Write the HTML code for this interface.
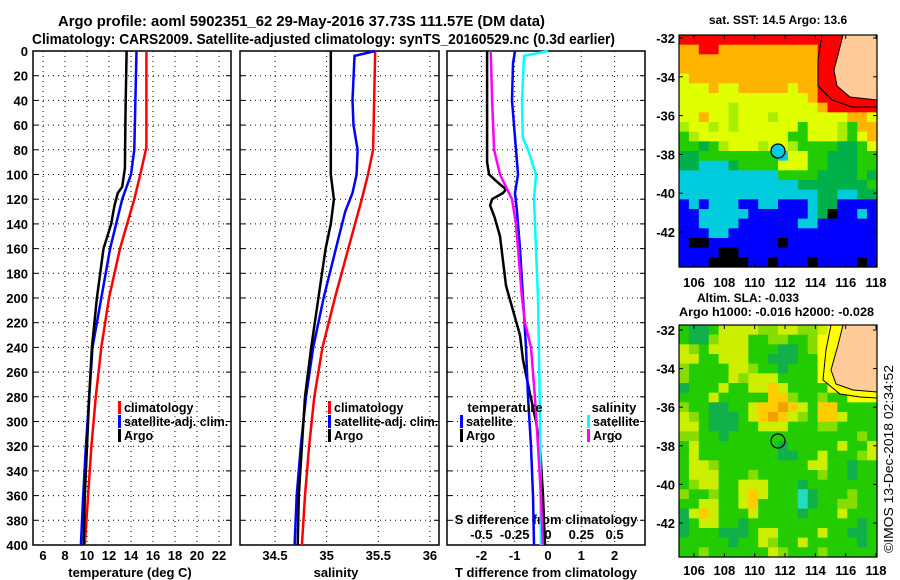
<!DOCTYPE html>
<html><head><meta charset="utf-8"><style>
html,body{margin:0;padding:0;background:#fff;}
svg{display:block;font-family:"Liberation Sans",Arial,sans-serif;font-weight:bold;}
</style></head><body>
<svg id="chart" width="900" height="580" viewBox="0 0 900 580" xmlns="http://www.w3.org/2000/svg">
<rect x="0" y="0" width="900" height="580" fill="#fff"/>
<text x="58" y="26" font-size="15" textLength="487" lengthAdjust="spacingAndGlyphs">Argo profile: aoml 5902351_62 29-May-2016 37.73S 111.57E (DM data)</text>
<text x="32" y="44" font-size="15" textLength="583" lengthAdjust="spacingAndGlyphs">Climatology: CARS2009. Satellite-adjusted climatology: synTS_20160529.nc (0.3d earlier)</text>
<text x="778" y="24" font-size="12" text-anchor="middle">sat. SST: 14.5 Argo: 13.6</text>
<text x="748" y="302" font-size="12" text-anchor="middle">Altim. SLA: -0.033</text>
<text x="679" y="316" font-size="12" textLength="195" lengthAdjust="spacingAndGlyphs">Argo h1000: -0.016 h2000: -0.028</text>
<text transform="translate(893,553) rotate(-90)" font-size="13" font-weight="normal" textLength="188" lengthAdjust="spacingAndGlyphs">©IMOS 13-Dec-2018 02:34:52</text>
<g id="maps"></g>
<g id="panels"></g>
</svg>
<script>
// ---- profile data (depth in dbar) ----
const depthTicks = [0,20,40,60,80,100,120,140,160,180,200,220,240,260,280,300,320,340,360,380,400];
const tempTicks = [6,8,10,12,14,16,18,20,22];
const salTicks = [34.5,35,35.5,36];
const tdiffTicks = [-2,-1,0,1,2];
const sdiffTicks = [-0.5,-0.25,0,0.25,0.5];
const sdiffTickLabels = ["-0.5","-0.25","0","0.25","0.5"];

const tClimDepth = [0,78,100,120,160,200,240,280,320,360,400];
const tClimVal   = [15.4,15.4,14.85,14.3,13.0,12.0,11.3,10.8,10.4,10.1,9.8];
const tSatDepth  = [0,80,100,120,160,200,240,280,320,360,400];
const tSatVal    = [14.5,14.3,14.0,13.2,12.1,11.3,10.5,10.2,9.9,9.65,9.45];
const tArgoDepth = [0,50,95,110,115,125,140,160,200,240,280,320,360,400];
const tArgoVal   = [13.6,13.5,13.45,13.2,12.8,12.5,12.2,11.5,10.9,10.45,10.2,10.0,9.8,9.7];

const sClimDepth = [0,80,100,120,160,200,240,280,320,360,400];
const sClimVal   = [35.47,35.45,35.4,35.34,35.21,35.08,34.96,34.88,34.83,34.79,34.76];
const sSatDepth  = [0,4,40,60,80,100,115,130,160,200,240,280,320,360,400];
const sSatVal    = [35.47,35.27,35.25,35.26,35.3,35.29,35.25,35.18,35.09,34.97,34.87,34.8,34.75,34.71,34.69];
const sArgoDepth = [0,100,120,140,160,200,240,280,320,360,400];
const sArgoVal   = [35.04,35.04,35.07,35.04,34.99,34.92,34.85,34.79,34.76,34.73,34.72];

const dTArgoDepth = [0,90,100,108,112,115,120,125,135,150,170,190,210,230,250,270,300,320,360,400];
const dTArgoVal   = [-1.83,-1.83,-1.77,-1.44,-1.26,-1.35,-1.68,-1.74,-1.6,-1.44,-1.35,-1.26,-1.05,-0.84,-0.75,-0.6,-0.36,-0.24,-0.15,-0.09];
const dTSatDepth  = [0,10,40,80,100,115,130,160,200,240,280,320,360,400];
const dTSatVal    = [-0.99,-1.05,-1.08,-0.96,-0.9,-0.99,-0.93,-0.84,-0.75,-0.66,-0.6,-0.51,-0.45,-0.42];
const dSSatDepth  = [0,4,40,70,80,100,120,160,200,240,300,400];
const dSSatVal    = [0,-0.18,-0.195,-0.19,-0.15,-0.09,-0.105,-0.09,-0.075,-0.068,-0.06,-0.053];
const dSArgoDepth = [0,40,80,100,110,120,140,160,200,220,240,280,320,360,400];
const dSArgoVal   = [-0.43,-0.42,-0.405,-0.36,-0.315,-0.27,-0.24,-0.225,-0.195,-0.173,-0.128,-0.098,-0.075,-0.053,-0.038];

// ---- map data ----
const lonTicks = [106,108,110,112,114,116,118];
const latTicks = [-32,-34,-36,-38,-40,-42];
const sstRows = [
"RRRRRRRRRRRRRRRRRPPP",
"OORROOOOOOOOOORRRPPP",
"OOOOOOOOOOOOOORRRPPP",
"OOOOOOOOOOOOOORRPPPP",
"YOOOOOOOOOOOOORRPPPP",
"YYYOYYOOOOOYOORRRRPP",
"YYYYYYYYYYYYYORRRRRR",
"YYYYYLYYYYYYYYORRRRR",
"YYOYYLYYYLYYYYYYYOOY",
"LYYLYLYYYYYYGYYYLGOO",
"GLYYYYYYYYYGGYYYLGYO",
"GGDGLYYYLYYLGGGGDDGY",
"DDGGGGGGGGCYYGGDDDGG",
"DDCCCDGGGGYYYGGDDDGG",
"CCCCCCCCCCGGGGDDDDGD",
"CCCCCCCCCCCCDDDDDDDG",
"CCCCCCCCCCCCCCDDCCDD",
"BCBCCCBBCCBBBCDDBBBB",
"BBCCCCCBBBBBBCDKBBCB",
"BBCCCCBBBBBBCCBBBBBB",
"BBBCCBBBBBBBBBBBBBBB",
"BKKBBBBBBBKBBBBBBBBB",
"BBBBKKBBBBBBBBBBBBBB",
"BBBKKKKBBKBBBKBBBBKB"];
const slaRows = [
"GMMGYYYYLLYYLLYWPPPP",
"GMMLYYYGGLLGGLWWPPPP",
"YLGYYYYGGGMMGLWPPPPP",
"YYGGYYYGGMMMGGWPPPPP",
"LGGGGYYLGGMGGGWPPPPP",
"LGGGGYLYYYGGGGWWPPPP",
"MGGGYGGYYOYGGGGWWWPP",
"GGGYGGGGGOOLGGLGGWWW",
"LGGMMGGYOOAOYGOOGGGG",
"YLGMMMGYOAOYLGOOYGGG",
"YYGMMMGGYYYGGGLLGGGG",
"LLGGMGGGGGGGGGGGGGLG",
"GYGGGGGGGGMGGGGGYGGY",
"GYGGGGGGGGMMGGYGGGLY",
"GYYLGGGGGGGGGYYGGMGG",
"GYYYGGGLGGGGGGLGGMGG",
"GLYYGGYYYGGGMGGGGGGG",
"LGGLGGYOYGGGTMGGGLGG",
"GGYYGGYOGGGGTMGGLLGG",
"MYOYGGGYGGGGMGGGYGGG",
"MGYYGGMGGGGGGGGGGGMG",
"MGGGMMMGYYGGGGYGGMMG",
"GGGGGMGGYLGGYGGGGGMG",
"GGLGGGGGGYLGGGLGGGGG"];

const NS="http://www.w3.org/2000/svg";
function mk(tag, attrs, parent){const e=document.createElementNS(NS,tag);for(const k in attrs)e.setAttribute(k,attrs[k]);parent.appendChild(e);return e;}
const panels=document.getElementById('panels');
const maps=document.getElementById('maps');

const PT=51, PB=545;
const yD = d => PT + d*(PB-PT)/400;
const xT = t => 43 + (t-6)*11;
const xS = s => 275 + (s-34.5)*103.3;
const xTd = v => 548 + v*33.3;
const xSd = v => 548 + v*133.2;

const panelDefs = [
 {name:'temperature-panel', x0:33, x1:231},
 {name:'salinity-panel', x0:240, x1:439},
 {name:'difference-panel', x0:447, x1:645}
];
const gridX = [tempTicks.map(xT), salTicks.map(xS), tdiffTicks.map(xTd)];

panelDefs.forEach((p,i)=>{
  const g=mk('g',{},panels);
  
  
  depthTicks.forEach(d=>{
    if(d===0||d===400) return;
    const l=mk('line',{x1:p.x0,x2:p.x1,y1:yD(d),y2:yD(d),stroke:'#000','stroke-width':1,'stroke-dasharray':'1,4'},g);
    
    
    mk('line',{x1:p.x0,x2:p.x0+5,y1:yD(d),y2:yD(d),stroke:'#000','stroke-width':1},g);
    mk('line',{x1:p.x1-5,x2:p.x1,y1:yD(d),y2:yD(d),stroke:'#000','stroke-width':1},g);
  });
  gridX[i].forEach(x=>{
    const l=mk('line',{x1:x,x2:x,y1:PT,y2:PB,stroke:'#000','stroke-width':1,'stroke-dasharray':'1,4'},g);
    
    
  });
  const fr=mk('rect',{x:p.x0,y:PT,width:p.x1-p.x0,height:PB-PT,fill:'none',stroke:'#000','stroke-width':1.5},g);
  
  
});

// y tick labels
depthTicks.forEach(d=>{
  const t=mk('text',{x:28,y:yD(d)+5,'font-size':13,'text-anchor':'end'},panels);
  t.textContent=d;
  
  
});
function xlabels(ticks,fx,y,labels){
  ticks.forEach((v,i)=>{
    const t=mk('text',{x:fx(v),y:y,'font-size':13,'text-anchor':'middle'},panels);
    t.textContent=labels?labels[i]:v;
    
    
  });
}
xlabels(tempTicks,xT,560);
xlabels(salTicks,xS,560);
xlabels(tdiffTicks,xTd,560);
xlabels(sdiffTicks,xSd,539,sdiffTickLabels);
function title(txt,x,y,name){
  const t=mk('text',{x:x,y:y,'font-size':13,'text-anchor':'middle'},panels);
  t.textContent=txt;
  
  
}
title('temperature (deg C)',130,577,'temperature-axis-title');
title('salinity',336,577,'salinity-axis-title');
title('T difference from climatology',546,577,'t-difference-axis-title');
title('S difference from climatology',546,524,'s-difference-axis-title');

function series(depths,vals,fx,color,name){
  const pts=depths.map((d,i)=>fx(vals[i]).toFixed(1)+','+yD(d).toFixed(1)).join(' ');
  const l=mk('polyline',{points:pts,fill:'none',stroke:color,'stroke-width':2.5,'stroke-linejoin':'miter'},panels);
  
  
}
series(tClimDepth,tClimVal,xT,'#ff0000','temperature-climatology-line');
series(tSatDepth,tSatVal,xT,'#0000ff','temperature-satellite-line');
series(tArgoDepth,tArgoVal,xT,'#000000','temperature-argo-line');
series(sClimDepth,sClimVal,xS,'#ff0000','salinity-climatology-line');
series(sSatDepth,sSatVal,xS,'#0000ff','salinity-satellite-line');
series(sArgoDepth,sArgoVal,xS,'#000000','salinity-argo-line');
series(dTArgoDepth,dTArgoVal,xTd,'#000000','t-difference-argo-line');
series(dTSatDepth,dTSatVal,xTd,'#0000ff','t-difference-satellite-line');
series(dSSatDepth,dSSatVal,xSd,'#00ffff','s-difference-satellite-line');
series(dSArgoDepth,dSArgoVal,xSd,'#ff00ff','s-difference-argo-line');

function legend(x,y,color,txt){
  const g=mk('g',{},panels);
  
  
  mk('rect',{x:x,y:y-11,width:3,height:13,fill:color},g);
  const t=mk('text',{x:x+6,y:y,'font-size':12.5},g);
  t.textContent=txt;
}
legend(118,412,'#ff0000','climatology');
legend(118,426,'#0000ff','satellite-adj. clim.');
legend(118,440,'#000000','Argo');
legend(328,412,'#ff0000','climatology');
legend(328,426,'#0000ff','satellite-adj. clim.');
legend(328,440,'#000000','Argo');
title('temperature',505,412,'legend-temperature-header');
legend(460,426,'#0000ff','satellite');
legend(460,440,'#000000','Argo');
title('salinity',614,412,'legend-salinity-header');
legend(587,426,'#00ffff','satellite');
legend(587,440,'#ff00ff','Argo');

// ---- maps ----
const sstColors={R:'#ff0000',O:'#ffb400',Y:'#e0ff00',L:'#a8ee00',G:'#22cc00',D:'#00b048',C:'#00ccdd',B:'#0000ff',K:'#000000',P:'#ffcc99'};
const slaColors={G:'#22cc00',M:'#10b04a',Y:'#ccee00',L:'#88dd00',O:'#ffcc00',A:'#f0a000',P:'#ffcc99',W:'#ffff00',T:'#22ddbb'};
const MX0=679, MX1=877;
const lonX = lon => 694 + (lon-106)*15.17;
function drawMap(rows,colors,y0,y1,name,latY){
  const g=mk('g',{},maps);
  
  
  const cw=(MX1-MX0)/rows[0].length, ch=(y1-y0)/rows.length;
  rows.forEach((row,r)=>{
    for(let c=0;c<row.length;c++){
      const cell=mk('rect',{x:(MX0+c*cw).toFixed(2),y:(y0+r*ch).toFixed(2),width:(cw+0.6).toFixed(2),height:(ch+0.6).toFixed(2),fill:colors[row[c]]},g);
      
      
    }
  });
  return g;
}
function mapAxes(y0,y1,latY,tickY){
  mk('rect',{x:MX0,y:y0,width:MX1-MX0,height:y1-y0,fill:'none',stroke:'#000','stroke-width':1.2},maps);
  lonTicks.forEach(lon=>{
    const x=lonX(lon);
    mk('line',{x1:x,x2:x,y1:y1,y2:y1-4,stroke:'#000'},maps);
    mk('line',{x1:x,x2:x,y1:y0,y2:y0+4,stroke:'#000'},maps);
    const t=mk('text',{x:x,y:tickY,'font-size':13,'text-anchor':'middle'},maps);
    t.textContent=lon;
    
    
  });
  latTicks.forEach(lat=>{
    const y=latY(lat);
    mk('line',{x1:MX0,x2:MX0+4,y1:y,y2:y,stroke:'#000'},maps);
    mk('line',{x1:MX1,x2:MX1-4,y1:y,y2:y,stroke:'#000'},maps);
    const t=mk('text',{x:675,y:y+5,'font-size':13,'text-anchor':'end'},maps);
    t.textContent=lat;
    
    
  });
}
const sstLatY = lat => 38 + (-32-lat)*19.4;
const slaLatY = lat => 330 + (-32-lat)*19.3;
drawMap(sstRows,sstColors,35,267,'sst-map');
mk('polygon',{points:'843,35 838,55 834,70 837,86 850,97 877,100 877,35',fill:'#ffcc99',stroke:'#000','stroke-width':1},maps);
mk('polyline',{points:'822,35 818,60 818,86 832,100 852,107 877,107',fill:'none',stroke:'#000','stroke-width':1},maps);
mapAxes(35,267,sstLatY,287);
const c1=mk('circle',{cx:778,cy:151,r:7,fill:'#00ccdd',stroke:'#000','stroke-width':1.2},maps);



drawMap(slaRows,slaColors,325,557,'sla-map');
mk('polygon',{points:'831,325 826,350 823,380 840,394 860,397 877,398 877,325',fill:'#ffff00',stroke:'#000','stroke-width':1},maps);
mk('polygon',{points:'843,325 838,345 831,370 836,384 853,390 877,392 877,325',fill:'#ffcc99',stroke:'#000','stroke-width':1},maps);
mapAxes(325,557,slaLatY,575);
const c2=mk('circle',{cx:778,cy:441,r:7,fill:'none',stroke:'#000','stroke-width':1.2},maps);


</script>
</body></html>
